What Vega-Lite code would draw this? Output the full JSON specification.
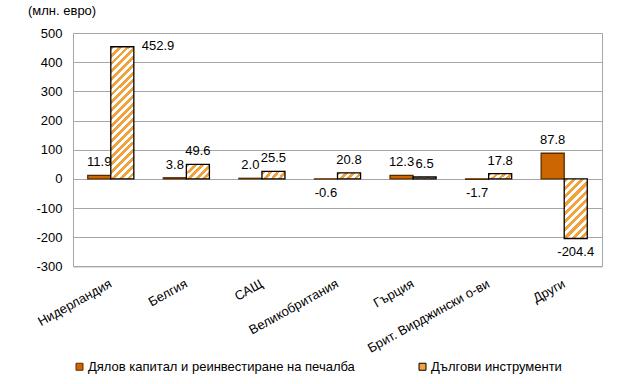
{
  "$schema": "https://vega.github.io/schema/vega-lite/v6.json",
  "width": 529,
  "height": 233.4,
  "autosize": {"type": "none"},
  "padding": {"left": 73, "top": 33, "right": 28, "bottom": 117.6},
  "background": "white",
  "title": {"text": "(млн. евро)", "anchor": "start", "frame": "group", "dx": -45, "offset": 9, "fontSize": 13, "fontWeight": "normal", "font": "Liberation Sans", "color": "#000000"},
  "config": {
    "font": "Liberation Sans",
    "locale": {"number": {"decimal": ".", "thousands": ",", "grouping": [3], "currency": ["", ""], "minus": "-"}},
    "view": {"stroke": "#A6A6A6", "strokeWidth": 1},
    "axis": {"labelFont": "Liberation Sans", "labelFontSize": 13, "labelColor": "#000000", "ticks": false, "domain": false, "title": null},
    "legend": {"orient": "none", "legendX": 0, "legendY": 327, "direction": "horizontal", "title": null, "labelFont": "Liberation Sans", "labelFontSize": 13, "labelColor": "#000000", "labelLimit": 0, "symbolType": "square", "symbolSize": 49, "symbolStrokeWidth": 1, "columnPadding": 61, "labelOffset": 2}
  },
  "data": {"values": [
    {"country": "Нидерландия", "series": "Дялов капитал и реинвестиране на печалба", "value": 11.9},
    {"country": "Белгия", "series": "Дялов капитал и реинвестиране на печалба", "value": 3.8},
    {"country": "САЩ", "series": "Дялов капитал и реинвестиране на печалба", "value": 2.0},
    {"country": "Великобритания", "series": "Дялов капитал и реинвестиране на печалба", "value": -0.6},
    {"country": "Гърция", "series": "Дялов капитал и реинвестиране на печалба", "value": 12.3},
    {"country": "Брит. Вирджински о-ви", "series": "Дялов капитал и реинвестиране на печалба", "value": -1.7},
    {"country": "Други", "series": "Дялов капитал и реинвестиране на печалба", "value": 87.8},
    {"country": "Нидерландия", "series": "Дългови инструменти", "value": 452.9},
    {"country": "Белгия", "series": "Дългови инструменти", "value": 49.6},
    {"country": "САЩ", "series": "Дългови инструменти", "value": 25.5},
    {"country": "Великобритания", "series": "Дългови инструменти", "value": 20.8},
    {"country": "Гърция", "series": "Дългови инструменти", "value": 6.5},
    {"country": "Брит. Вирджински о-ви", "series": "Дългови инструменти", "value": 17.8},
    {"country": "Други", "series": "Дългови инструменти", "value": -204.4}
  ]},
  "encoding": {
    "x": {"field": "country", "type": "nominal", "sort": null, "scale": {"paddingInner": 0.39, "paddingOuter": 0.195}, "axis": {"labelAngle": -29, "labelAlign": "right", "labelBaseline": "middle", "labelPadding": 16, "grid": false}},
    "xOffset": {"field": "series", "type": "nominal", "sort": null},
    "y": {"field": "value", "type": "quantitative", "scale": {"domain": [-300, 500], "nice": false}, "axis": {"values": [-300, -200, -100, 0, 100, 200, 300, 400, 500], "grid": true, "gridColor": "#A6A6A6", "gridWidth": 1, "labelPadding": 11}}
  },
  "layer": [
    {
      "mark": {"type": "bar", "strokeWidth": 1.3},
      "encoding": {
        "fill": {
          "field": "series", "type": "nominal", "sort": null,
          "scale": {"range": ["#CC6600", "#F2A23C"]},
          "legend": {"title": null},
          "condition": [
            {"test": "datum.series === 'Дългови инструменти' && datum.value > 300", "value": {"gradient": "linear", "x1": 0, "y1": 0, "x2": 0.198, "y2": 1.14, "stops": [
              {"offset": 0, "color": "#F2A23C"}, {"offset": 0.025, "color": "#F2A23C"}, {"offset": 0.025, "color": "#ffffff"}, {"offset": 0.05, "color": "#ffffff"},
              {"offset": 0.05, "color": "#F2A23C"}, {"offset": 0.075, "color": "#F2A23C"}, {"offset": 0.075, "color": "#ffffff"}, {"offset": 0.1, "color": "#ffffff"},
              {"offset": 0.1, "color": "#F2A23C"}, {"offset": 0.125, "color": "#F2A23C"}, {"offset": 0.125, "color": "#ffffff"}, {"offset": 0.15, "color": "#ffffff"},
              {"offset": 0.15, "color": "#F2A23C"}, {"offset": 0.175, "color": "#F2A23C"}, {"offset": 0.175, "color": "#ffffff"}, {"offset": 0.2, "color": "#ffffff"},
              {"offset": 0.2, "color": "#F2A23C"}, {"offset": 0.225, "color": "#F2A23C"}, {"offset": 0.225, "color": "#ffffff"}, {"offset": 0.25, "color": "#ffffff"},
              {"offset": 0.25, "color": "#F2A23C"}, {"offset": 0.275, "color": "#F2A23C"}, {"offset": 0.275, "color": "#ffffff"}, {"offset": 0.3, "color": "#ffffff"},
              {"offset": 0.3, "color": "#F2A23C"}, {"offset": 0.325, "color": "#F2A23C"}, {"offset": 0.325, "color": "#ffffff"}, {"offset": 0.35, "color": "#ffffff"},
              {"offset": 0.35, "color": "#F2A23C"}, {"offset": 0.375, "color": "#F2A23C"}, {"offset": 0.375, "color": "#ffffff"}, {"offset": 0.4, "color": "#ffffff"},
              {"offset": 0.4, "color": "#F2A23C"}, {"offset": 0.425, "color": "#F2A23C"}, {"offset": 0.425, "color": "#ffffff"}, {"offset": 0.45, "color": "#ffffff"},
              {"offset": 0.45, "color": "#F2A23C"}, {"offset": 0.475, "color": "#F2A23C"}, {"offset": 0.475, "color": "#ffffff"}, {"offset": 0.5, "color": "#ffffff"},
              {"offset": 0.5, "color": "#F2A23C"}, {"offset": 0.525, "color": "#F2A23C"}, {"offset": 0.525, "color": "#ffffff"}, {"offset": 0.55, "color": "#ffffff"},
              {"offset": 0.55, "color": "#F2A23C"}, {"offset": 0.575, "color": "#F2A23C"}, {"offset": 0.575, "color": "#ffffff"}, {"offset": 0.6, "color": "#ffffff"},
              {"offset": 0.6, "color": "#F2A23C"}, {"offset": 0.625, "color": "#F2A23C"}, {"offset": 0.625, "color": "#ffffff"}, {"offset": 0.65, "color": "#ffffff"},
              {"offset": 0.65, "color": "#F2A23C"}, {"offset": 0.675, "color": "#F2A23C"}, {"offset": 0.675, "color": "#ffffff"}, {"offset": 0.7, "color": "#ffffff"},
              {"offset": 0.7, "color": "#F2A23C"}, {"offset": 0.725, "color": "#F2A23C"}, {"offset": 0.725, "color": "#ffffff"}, {"offset": 0.75, "color": "#ffffff"},
              {"offset": 0.75, "color": "#F2A23C"}, {"offset": 0.775, "color": "#F2A23C"}, {"offset": 0.775, "color": "#ffffff"}, {"offset": 0.8, "color": "#ffffff"},
              {"offset": 0.8, "color": "#F2A23C"}, {"offset": 0.825, "color": "#F2A23C"}, {"offset": 0.825, "color": "#ffffff"}, {"offset": 0.85, "color": "#ffffff"},
              {"offset": 0.85, "color": "#F2A23C"}, {"offset": 0.875, "color": "#F2A23C"}, {"offset": 0.875, "color": "#ffffff"}, {"offset": 0.9, "color": "#ffffff"},
              {"offset": 0.9, "color": "#F2A23C"}, {"offset": 0.925, "color": "#F2A23C"}, {"offset": 0.925, "color": "#ffffff"}, {"offset": 0.95, "color": "#ffffff"},
              {"offset": 0.95, "color": "#F2A23C"}, {"offset": 0.975, "color": "#F2A23C"}, {"offset": 0.975, "color": "#ffffff"}, {"offset": 1, "color": "#ffffff"}
            ]}},
            {"test": "datum.series === 'Дългови инструменти' && datum.value < -100", "value": {"gradient": "linear", "x1": 0, "y1": 0, "x2": 0.466, "y2": 1.206, "stops": [
              {"offset": 0, "color": "#F2A23C"}, {"offset": 0.05, "color": "#F2A23C"}, {"offset": 0.05, "color": "#ffffff"}, {"offset": 0.1, "color": "#ffffff"},
              {"offset": 0.1, "color": "#F2A23C"}, {"offset": 0.15, "color": "#F2A23C"}, {"offset": 0.15, "color": "#ffffff"}, {"offset": 0.2, "color": "#ffffff"},
              {"offset": 0.2, "color": "#F2A23C"}, {"offset": 0.25, "color": "#F2A23C"}, {"offset": 0.25, "color": "#ffffff"}, {"offset": 0.3, "color": "#ffffff"},
              {"offset": 0.3, "color": "#F2A23C"}, {"offset": 0.35, "color": "#F2A23C"}, {"offset": 0.35, "color": "#ffffff"}, {"offset": 0.4, "color": "#ffffff"},
              {"offset": 0.4, "color": "#F2A23C"}, {"offset": 0.45, "color": "#F2A23C"}, {"offset": 0.45, "color": "#ffffff"}, {"offset": 0.5, "color": "#ffffff"},
              {"offset": 0.5, "color": "#F2A23C"}, {"offset": 0.55, "color": "#F2A23C"}, {"offset": 0.55, "color": "#ffffff"}, {"offset": 0.6, "color": "#ffffff"},
              {"offset": 0.6, "color": "#F2A23C"}, {"offset": 0.65, "color": "#F2A23C"}, {"offset": 0.65, "color": "#ffffff"}, {"offset": 0.7, "color": "#ffffff"},
              {"offset": 0.7, "color": "#F2A23C"}, {"offset": 0.75, "color": "#F2A23C"}, {"offset": 0.75, "color": "#ffffff"}, {"offset": 0.8, "color": "#ffffff"},
              {"offset": 0.8, "color": "#F2A23C"}, {"offset": 0.85, "color": "#F2A23C"}, {"offset": 0.85, "color": "#ffffff"}, {"offset": 0.9, "color": "#ffffff"},
              {"offset": 0.9, "color": "#F2A23C"}, {"offset": 0.95, "color": "#F2A23C"}, {"offset": 0.95, "color": "#ffffff"}, {"offset": 1, "color": "#ffffff"}
            ]}},
            {"test": "datum.series === 'Дългови инструменти' && datum.value > 40", "value": {"gradient": "linear", "x1": 0, "y1": 0, "x2": 1.167, "y2": 0.736, "stops": [
              {"offset": 0, "color": "#F2A23C"}, {"offset": 0.1, "color": "#F2A23C"}, {"offset": 0.1, "color": "#ffffff"}, {"offset": 0.2, "color": "#ffffff"},
              {"offset": 0.2, "color": "#F2A23C"}, {"offset": 0.3, "color": "#F2A23C"}, {"offset": 0.3, "color": "#ffffff"}, {"offset": 0.4, "color": "#ffffff"},
              {"offset": 0.4, "color": "#F2A23C"}, {"offset": 0.5, "color": "#F2A23C"}, {"offset": 0.5, "color": "#ffffff"}, {"offset": 0.6, "color": "#ffffff"},
              {"offset": 0.6, "color": "#F2A23C"}, {"offset": 0.7, "color": "#F2A23C"}, {"offset": 0.7, "color": "#ffffff"}, {"offset": 0.8, "color": "#ffffff"},
              {"offset": 0.8, "color": "#F2A23C"}, {"offset": 0.9, "color": "#F2A23C"}, {"offset": 0.9, "color": "#ffffff"}, {"offset": 1, "color": "#ffffff"}
            ]}},
            {"test": "datum.series === 'Дългови инструменти'", "value": {"gradient": "linear", "x1": 0, "y1": 0, "x2": 1.18, "y2": 0.308, "stops": [
              {"offset": 0, "color": "#F2A23C"}, {"offset": 0.125, "color": "#F2A23C"}, {"offset": 0.125, "color": "#ffffff"}, {"offset": 0.25, "color": "#ffffff"},
              {"offset": 0.25, "color": "#F2A23C"}, {"offset": 0.375, "color": "#F2A23C"}, {"offset": 0.375, "color": "#ffffff"}, {"offset": 0.5, "color": "#ffffff"},
              {"offset": 0.5, "color": "#F2A23C"}, {"offset": 0.625, "color": "#F2A23C"}, {"offset": 0.625, "color": "#ffffff"}, {"offset": 0.75, "color": "#ffffff"},
              {"offset": 0.75, "color": "#F2A23C"}, {"offset": 0.875, "color": "#F2A23C"}, {"offset": 0.875, "color": "#ffffff"}, {"offset": 1, "color": "#ffffff"}
            ]}}
          ]
        },
        "stroke": {"field": "series", "type": "nominal", "sort": null, "scale": {"range": ["#5A2D00", "#000000"]}, "legend": {"title": null}}
      }
    },
    {
      "transform": [{"filter": "datum.value >= 0 && datum.value < 300"}],
      "mark": {"type": "text", "baseline": "middle", "dy": -13, "fontSize": 13, "font": "Liberation Sans", "color": "#000000"},
      "encoding": {"text": {"field": "value", "type": "quantitative", "format": ".1f"}}
    },
    {
      "transform": [{"filter": "datum.value >= 300"}],
      "mark": {"type": "text", "baseline": "middle", "align": "left", "dx": 19.5, "dy": -1, "fontSize": 13, "font": "Liberation Sans", "color": "#000000"},
      "encoding": {"text": {"field": "value", "type": "quantitative", "format": ".1f"}}
    },
    {
      "transform": [{"filter": "datum.value < 0"}],
      "mark": {"type": "text", "baseline": "middle", "dy": 13.5, "fontSize": 13, "font": "Liberation Sans", "color": "#000000"},
      "encoding": {"text": {"field": "value", "type": "quantitative", "format": ".1f"}}
    }
  ]
}
